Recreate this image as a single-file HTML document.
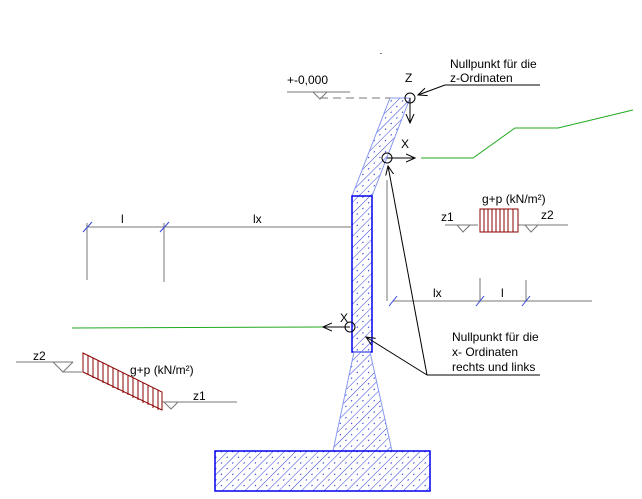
<!DOCTYPE html>
<html><head><meta charset="utf-8"><style>
html,body{margin:0;padding:0;background:#fff;}
svg{display:block;font-family:"Liberation Sans",sans-serif;}
</style></head><body>
<svg width="642" height="499" viewBox="0 0 642 499" xmlns="http://www.w3.org/2000/svg">
<defs>
<pattern id="h" patternUnits="userSpaceOnUse" width="8" height="8" patternTransform="rotate(45)">
<line x1="0" y1="0" x2="0" y2="8" stroke="#3344dd" stroke-width="1"/>
<line x1="4" y1="2" x2="4" y2="3.5" stroke="#3344dd" stroke-width="1"/>
</pattern>
<marker id="a" markerWidth="10" markerHeight="10" refX="9" refY="5" orient="auto" markerUnits="userSpaceOnUse">
<path d="M0,1 L9,5 L0,9" fill="none" stroke="#000" stroke-width="1"/>
</marker>
</defs>
<g stroke="#3344ee" stroke-width="1">
<polygon points="390,98 410,98 372,196 352,196" fill="url(#h)" stroke="#8899ee"/>
<rect x="352" y="196" width="20" height="156" fill="url(#h)" stroke="#0000ee" stroke-width="1.5"/>
<polygon points="354,352 370,352 392,451 333,451" fill="url(#h)" stroke="#8899ee"/>
<rect x="215" y="451" width="215" height="40" fill="url(#h)" stroke="#0000ee" stroke-width="1.5"/>
</g>
<g stroke="#777" fill="none" stroke-width="1">
<line x1="287" y1="92" x2="350" y2="92"/>
<path d="M313,92 L320,99 L327,92"/>
<line x1="320" y1="98" x2="390" y2="98" stroke-dasharray="8,5"/>
<line x1="87" y1="227" x2="352" y2="227"/>
<line x1="87" y1="223" x2="87" y2="280"/>
<line x1="164" y1="223" x2="164" y2="282"/>
<line x1="83" y1="232" x2="92" y2="222" stroke="#3344dd"/>
<line x1="160" y1="232" x2="169" y2="222" stroke="#3344dd"/>
<line x1="387" y1="180" x2="387" y2="301"/>
<line x1="393" y1="301" x2="592" y2="301"/>
<line x1="480" y1="278" x2="480" y2="301"/>
<line x1="526" y1="280" x2="526" y2="301"/>
<line x1="389" y1="306" x2="397" y2="296" stroke="#3344dd"/>
<line x1="476" y1="306" x2="484" y2="296" stroke="#3344dd"/>
<line x1="522" y1="306" x2="530" y2="296" stroke="#3344dd"/>
<line x1="445" y1="225" x2="478" y2="225"/>
<path d="M457,225 L463,232 L470,225"/>
<line x1="518" y1="225" x2="568" y2="225"/>
<path d="M525,225 L531,232 L538,225"/>
<line x1="16" y1="362" x2="73" y2="362"/>
<path d="M53,362 L63,372 L73,362"/><line x1="63" y1="372" x2="82" y2="372"/>
<line x1="162" y1="402" x2="237" y2="402"/>
<path d="M164,402 L171,409 L178,402"/>
</g>
<g stroke="#8b0000" fill="none">
<rect x="480" y="209" width="38" height="23"/>
<path d="M484,209v23M488,209v23M492,209v23M496,209v23M500,209v23M504,209v23M508,209v23M513,209v23"/>
<polygon points="83,353 162,392 162,410 83,372"/>
<path d="M88,355v20M93,358v20M98,360v20M103,363v20M108,365v20M113,368v20M118,370v20M123,373v20M128,375v20M133,378v20M138,380v20M143,383v20M148,385v20M153,388v20M158,390v20"/>
</g>
<g stroke="#22aa22" fill="none">
<polyline points="421,158 473,158 515,128 558,128 633,110"/>
<line x1="72" y1="328" x2="325" y2="327"/>
</g>
<g stroke="#000" fill="none">
<circle cx="410" cy="98" r="5"/>
<line x1="410" y1="98" x2="410" y2="123" marker-end="url(#a)"/>
<circle cx="387" cy="158" r="5"/>
<line x1="387" y1="158" x2="415" y2="158" marker-end="url(#a)"/>
<circle cx="350" cy="327" r="5"/>
<line x1="350" y1="327" x2="323" y2="327" marker-end="url(#a)"/>
<line x1="445" y1="85" x2="540" y2="85"/>
<line x1="445" y1="85" x2="418" y2="95" marker-end="url(#a)"/>
<line x1="427" y1="375" x2="540" y2="375"/>
<line x1="427" y1="375" x2="388" y2="166" marker-end="url(#a)"/>
<line x1="427" y1="375" x2="366" y2="337" marker-end="url(#a)"/>
<line x1="381" y1="53" x2="381" y2="54"/>
</g>
<g font-size="12" fill="#000">
<text x="287" y="84">+-0,000</text>
<text x="405" y="82">Z</text>
<text x="450" y="68">Nullpunkt für die</text>
<text x="450" y="82">z-Ordinaten</text>
<text x="401" y="148">X</text>
<text x="482" y="203">g+p (kN/m²)</text>
<text x="441" y="221">z1</text>
<text x="541" y="219">z2</text>
<text x="121" y="223">l</text>
<text x="253" y="223">lx</text>
<text x="433" y="297">lx</text>
<text x="501" y="297">l</text>
<text x="340" y="322">X</text>
<text x="452" y="341">Nullpunkt für die</text>
<text x="452" y="356">x- Ordinaten</text>
<text x="452" y="371">rechts und links</text>
<text x="33" y="360">z2</text>
<text x="130" y="374">g+p (kN/m²)</text>
<text x="193" y="400">z1</text>
</g>
</svg>
</body></html>
